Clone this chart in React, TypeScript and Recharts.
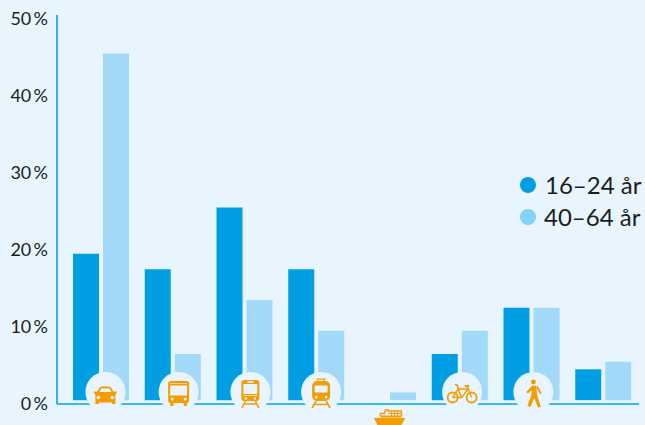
import React from 'react';
import { BarChart, Bar, XAxis, YAxis } from 'recharts';

const categories = ['Bil', 'Buss', 'Spårvagn', 'Tåg', 'Båt', 'Cykel', 'Gång', 'Annat'];
const youngValues = [19, 17, 25, 17, 0, 6, 12, 4];
const olderValues = [45, 6, 13, 9, 1, 9, 12, 5];
const percentTicks = [0, 10, 20, 30, 40, 50];
const seriesNames = ['16–24 år', '40–64 år'];

const data = categories.map((name, i) => ({ name, young: youngValues[i], older: olderValues[i] }));

const BG = '#e8f5fe';
const BLUE = '#009fe3';
const LIGHT = '#a2d9f9';
const ORANGE = '#f59c00';
const FONT = 'Lato, "Open Sans", sans-serif';

function Car() {
  return (
    <g fill={ORANGE}>
      <path d="M-11.5 -0.5 L-8 -0.5 L-6 -4 Q-5 -5.5 -3.5 -5.5 L3.5 -5.5 Q5 -5.5 6 -4 L8 -0.5 L11.5 -0.5 L11 2 L10 2.5 L10 12 L6.5 12 L6.5 10.5 L-6.5 10.5 L-6.5 12 L-10 12 L-10 2.5 L-11 2 Z" />
      <path d="M-6 0 L-4.3 -3.4 L4.3 -3.4 L6 0 Z" fill={BG} />
      <circle cx={-7} cy={5.5} r={1.8} fill={BG} />
      <circle cx={7} cy={5.5} r={1.8} fill={BG} />
    </g>
  );
}

function Bus() {
  return (
    <g fill={ORANGE}>
      <rect x={-10.5} y={-11} width={21} height={22} rx={2.5} />
      <rect x={-8.5} y={-6.5} width={17} height={10} fill={BG} />
      <rect x={-8.5} y={-9} width={17} height={1} fill={BG} opacity={0.6} />
      <rect x={-8.5} y={11} width={3.5} height={3} rx={1} />
      <rect x={5} y={11} width={3.5} height={3} rx={1} />
      <circle cx={-6.5} cy={7} r={1.5} fill={BG} />
      <circle cx={6.5} cy={7} r={1.5} fill={BG} />
    </g>
  );
}

function Tram() {
  return (
    <g>
      <rect x={-9} y={-12} width={18} height={21} rx={3} fill={ORANGE} />
      <rect x={-7} y={-8} width={14} height={10} rx={1} fill={BG} />
      <rect x={-3} y={-11} width={6} height={1.8} fill={BG} />
      <rect x={-7} y={3} width={14} height={1} fill={BG} opacity={0.7} />
      <circle cx={-4.5} cy={6.5} r={1.2} fill={BG} />
      <circle cx={4.5} cy={6.5} r={1.2} fill={BG} />
      <path d="M-5 9 L-8.5 16 M5 9 L8.5 16 M-6.5 12 H6.5" stroke={ORANGE} strokeWidth={1.6} fill="none" />
    </g>
  );
}

function Train() {
  return (
    <g>
      <path d="M-3 -14 V-11 M3 -14 V-11 M-4.5 -13 H4.5" stroke={ORANGE} strokeWidth={1} fill="none" />
      <rect x={-9} y={-11} width={18} height={20} rx={5} fill={ORANGE} />
      <rect x={-6.5} y={-6.5} width={13} height={7} rx={1} fill={BG} />
      <circle cx={-5} cy={5} r={1.5} fill={BG} />
      <circle cx={5} cy={5} r={1.5} fill={BG} />
      <path d="M-5 9 L-9 16 M5 9 L9 16 M-6.5 12.5 H6.5" stroke={ORANGE} strokeWidth={1.6} fill="none" />
    </g>
  );
}

function Bike() {
  return (
    <g fill="none" stroke={ORANGE} strokeWidth={1.8}>
      <circle cx={-9.5} cy={5.5} r={5} />
      <circle cx={9.5} cy={5.5} r={5} />
      <path d="M-9.5 5.5 L-4 -3 H6 L9.5 5.5 M-4 -3 L-0.5 5.5 L6 -3 M-0.5 5.5 H-9.5" strokeWidth={1.4} />
      <path d="M-7 -7 Q-4.5 -8.5 -4 -3 M2.5 -6 H7 M5 -6 L6 -3" />
    </g>
  );
}

function Walker() {
  return (
    <g>
      <circle cx={0} cy={-10} r={2.4} fill={ORANGE} />
      <path d="M-1 -6.5 L3 -6 L3.5 2 L5 7 L7.5 15 L4.5 15.5 L1 6 L-3 15 L-6 14 L-2 3 L-1.5 -2 L-5.5 1.5 L-7 0 Z" fill={ORANGE} />
      <path d="M3.5 -5.5 L7.5 1.5" stroke={ORANGE} strokeWidth={1.8} fill="none" />
    </g>
  );
}

function Ferry() {
  return (
    <g fill={ORANGE}>
      <path d="M-15.5 -1 H16 L12 6 H-12 Z" />
      <rect x={-9} y={-3.5} width={21} height={2} />
      <path d="M-9 -3 V-5.5 H-5 L-4 -9 H-1 V-8 H12 V-3" fill="none" stroke={ORANGE} strokeWidth={1.4} />
      <path d="M2 -8 V-3 M5 -8 V-3 M8 -8 V-3 M-1 -5.5 H12" fill="none" stroke={ORANGE} strokeWidth={1} />
    </g>
  );
}

// icon and its centre relative to the tick of the group
const icons: Record<string, { Icon: () => React.ReactElement; dx: number; circle: boolean }> = {
  Bil: { Icon: Car, dx: 4.5, circle: true },
  Buss: { Icon: Bus, dx: 6, circle: true },
  Spårvagn: { Icon: Tram, dx: 6, circle: true },
  Tåg: { Icon: Train, dx: 5, circle: true },
  Båt: { Icon: Ferry, dx: 1.5, circle: false },
  Cykel: { Icon: Bike, dx: 2.5, circle: true },
  Gång: { Icon: Walker, dx: 2, circle: true },
};

function IconTick({ x, payload }: any) {
  const entry = icons[payload.value];
  if (!entry) return null;
  const { Icon, dx, circle } = entry;
  return (
    <g transform={`translate(${x + dx},${circle ? 392 : 419})`}>
      {circle && <circle r={20} fill={BG} />}
      <Icon />
    </g>
  );
}

function PercentTick({ y, payload }: any) {
  return (
    <text x={48} y={y + 3} dy={6.5} textAnchor="end" fontSize={18} fontFamily={FONT} fill="#1d1d1b">
      {payload.value}
      {'\u2009%'}
    </text>
  );
}

function LegendBox() {
  const rows = [
    { label: seriesNames[0], color: BLUE, left: 545 },
    { label: seriesNames[1], color: '#84d1f6', left: 544 },
  ];
  return (
    <div style={{ position: 'absolute', left: 510, top: 169, width: 135, height: 64 }}>
      {rows.map((row, i) => (
        <div key={row.label} style={{ position: 'absolute', top: i * 32, left: 0, height: 32, width: 135 }}>
          <span style={{ position: 'absolute', left: 10, top: 8, width: 16, height: 16, borderRadius: 8, background: row.color }} />
          <span style={{ position: 'absolute', left: row.left - 510, top: 0, lineHeight: '32px', fontSize: 24, fontFamily: FONT, color: '#1d1d1b', whiteSpace: 'nowrap' }}>
            {row.label}
          </span>
        </div>
      ))}
    </div>
  );
}

export default function App() {
  return (
    <div style={{ position: 'absolute', left: 0, top: 0, width: 645, height: 425, background: BG, overflow: 'hidden' }}>
      <BarChart
        width={645}
        height={425}
        data={data}
        barSize={26}
        barGap={4}
        margin={{ top: 15, right: 6, bottom: 0, left: 0 }}
      >
        <YAxis
          width={57}
          domain={[-0.5, 50]}
          ticks={percentTicks}
          axisLine={{ stroke: '#00a5e8', strokeWidth: 1.6 }}
          tickLine={false}
          tick={<PercentTick />}
          interval={0}
        />
        <Bar dataKey="young" name={seriesNames[0]} fill={BLUE} isAnimationActive={false} />
        <Bar dataKey="older" name={seriesNames[1]} fill={LIGHT} isAnimationActive={false} />
        <XAxis
          dataKey="name"
          height={21}
          padding={{ left: 8, right: 0 }}
          interval={0}
          axisLine={{ stroke: '#00a5e8', strokeWidth: 1.6 }}
          tickLine={false}
          tick={<IconTick />}
        />
      </BarChart>
      <LegendBox />
    </div>
  );
}
